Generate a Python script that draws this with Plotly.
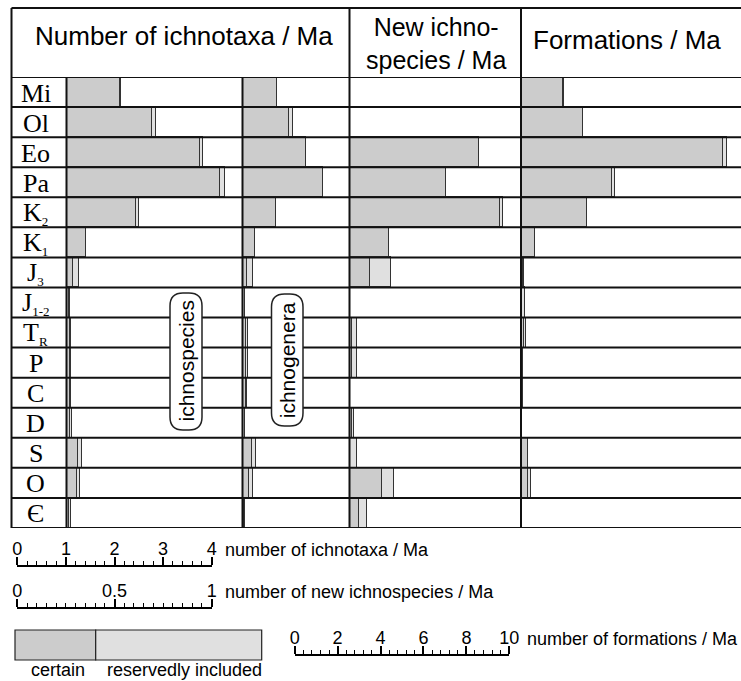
import plotly.graph_objects as go

W, H = 741, 681

# ---------------- data ----------------
SUB = "<sub><span style='font-size:13px'>{}</span></sub>"
periods = ["Mi", "Ol", "Eo", "Pa", "K" + SUB.format("2"), "K" + SUB.format("1"), "J" + SUB.format("3"),
           "J" + SUB.format("1-2"), "T" + SUB.format("R"), "P", "C", "D", "S", "O", "Є"]

ichnosp_certain = [1.09, 1.75, 2.74, 3.15, 1.41, 0.40, 0.13, 0.05, 0.06, 0.06, 0.06, 0.06, 0.22, 0.20, 0.04]
ichnosp_reserved = [0.02, 0.09, 0.06, 0.10, 0.07, 0.00, 0.12, 0.02, 0.02, 0.02, 0.03, 0.04, 0.08, 0.07, 0.04]

ichnogen_certain = [0.70, 0.94, 1.30, 1.64, 0.67, 0.25, 0.08, 0.04, 0.07, 0.07, 0.06, 0.04, 0.19, 0.13, 0.03]
ichnogen_reserved = [0.00, 0.08, 0.00, 0.00, 0.00, 0.00, 0.12, 0.01, 0.03, 0.03, 0.02, 0.01, 0.08, 0.07, 0.02]

newsp_certain = [0.0, 0.0, 0.665, 0.493, 0.772, 0.20, 0.103, 0.0, 0.01, 0.01, 0.0, 0.008, 0.0, 0.165, 0.047]
newsp_reserved = [0.0, 0.0, 0.0, 0.0, 0.017, 0.0, 0.11, 0.0, 0.025, 0.025, 0.0, 0.012, 0.035, 0.064, 0.04]

form_certain = [1.93, 2.89, 9.41, 4.21, 3.09, 0.65, 0.10, 0.05, 0.12, 0.07, 0.06, 0.04, 0.34, 0.34, 0.03]
form_reserved = [0.05, 0.00, 0.15, 0.17, 0.00, 0.00, 0.05, 0.15, 0.12, 0.00, 0.04, 0.00, 0.00, 0.14, 0.00]

headers = ["Number of ichnotaxa / Ma", "New ichno-<br>species / Ma", "Formations / Ma"]
side_labels = ["ichnospecies", "ichnogenera"]
legend_labels = ["certain", "reservedly included"]
scale_titles = ["number of ichnotaxa / Ma", "number of new ichnospecies / Ma", "number of formations / Ma"]
scale_ichnotaxa_ticks = [0, 1, 2, 3, 4]
scale_newsp_ticks = [0, 0.5, 1]
scale_form_ticks = [0, 2, 4, 6, 8, 10]

# ---------------- geometry helpers ----------------
def px(x):
    return x / W

def py(y):
    return 1 - y / H

C_CERT = "#cccccc"
C_RES = "#e0e0e0"
C_EDGE = "#333333"

TOP, HEAD_BOT, BOT = 8, 77, 528
LEFT, LABEL_R = 11.5, 66.5
cols = [(66.5, 242.5, 48.6), (242.5, 349.5, 48.6), (349.5, 521, 194.0), (521, 741, 21.5)]

n = len(periods)
ypos = list(range(n))

fig = go.Figure()

series = [(ichnosp_certain, ichnosp_reserved), (ichnogen_certain, ichnogen_reserved),
          (newsp_certain, newsp_reserved), (form_certain, form_reserved)]

layout = dict(
    width=W, height=H, margin=dict(l=0, r=0, t=0, b=0, pad=0, autoexpand=False),
    paper_bgcolor="white", plot_bgcolor="rgba(0,0,0,0)",
    barmode="stack", bargap=0, showlegend=False,
    font=dict(family="Liberation Sans, Arial, sans-serif", color="black"),
)

layout["yaxis"] = dict(domain=[py(BOT), py(HEAD_BOT)], range=[n - 0.5, -0.5],
                       visible=False, anchor="x", fixedrange=True)

for k, ((x0, x1, scale), (cert, res)) in enumerate(zip(cols, series), start=1):
    xa = "x" if k == 1 else f"x{k}"
    fig.add_trace(go.Bar(x=cert, y=ypos, orientation="h", xaxis=xa, yaxis="y",
                         marker=dict(color=C_CERT, line=dict(color=C_EDGE, width=1)),
                         hoverinfo="skip"))
    fig.add_trace(go.Bar(x=res, y=ypos, orientation="h", xaxis=xa, yaxis="y",
                         marker=dict(color=C_RES, line=dict(color=C_EDGE, width=1)),
                         hoverinfo="skip"))
    layout["xaxis" if k == 1 else f"xaxis{k}"] = dict(
        domain=[px(x0), px(x1)], range=[0, (x1 - x0) / scale], visible=False,
        anchor="y", fixedrange=True)

# ---------------- scale bars as axes ----------------
scales = [
    (5, 567.0, 17.3, 211.7, [0, 4], scale_ichnotaxa_ticks, [str(v) for v in scale_ichnotaxa_ticks], 0.2),
    (6, 609.0, 17.3, 211.7, [0, 1], scale_newsp_ticks, ["0", "0.5", "1"], 0.05),
    (7, 656.0, 294.7, 509.3, [0, 10], scale_form_ticks, [str(v) for v in scale_form_ticks], 0.4),
]
for idx, ypx, xa0, xa1, rng, tv, tt, mdt in scales:
    layout[f"yaxis{idx}"] = dict(domain=[py(ypx) - 0.004, py(ypx)], range=[0, 1], visible=False,
                                 anchor=f"x{idx}", fixedrange=True)
    layout[f"xaxis{idx}"] = dict(
        domain=[px(xa0), px(xa1)], range=[rng[0] - 1e-6, rng[1] + 1e-6], anchor=f"y{idx}", side="top",
        tickmode="array", tickvals=tv, ticktext=tt, ticks="outside", ticklen=8, tickwidth=1.5,
        tickcolor="black", showline=True, linecolor="black", linewidth=1.5,
        showgrid=False, zeroline=False, fixedrange=True, ticklabelstandoff=-5,
        tickfont=dict(size=18, family="Liberation Sans, Arial, sans-serif", color="black"),
        minor=dict(tick0=0, dtick=mdt, ticks="outside", ticklen=4, tickwidth=1.2,
                   tickcolor="black", showgrid=False),
    )
    fig.add_trace(go.Scatter(x=[rng[0]], y=[0], xaxis=f"x{idx}", yaxis=f"y{idx}", mode="markers",
                             marker=dict(opacity=0), hoverinfo="skip", showlegend=False))

# ---------------- table lines ----------------
shapes = []
LINE = dict(color="#111111", width=2)
for i in range(-1, n):
    shapes.append(dict(type="line", xref="paper", yref="y", x0=px(LEFT), x1=1,
                       y0=i + 0.5, y1=i + 0.5, line=LINE, layer="above"))
shapes.append(dict(type="line", xref="paper", yref="paper", x0=px(LEFT), x1=1,
                   y0=py(TOP), y1=py(TOP), line=LINE, layer="above"))
for xv, ytop in [(LEFT, TOP), (LABEL_R, HEAD_BOT), (242.5, HEAD_BOT), (349.5, TOP), (521, TOP)]:
    shapes.append(dict(type="line", xref="paper", yref="paper", x0=px(xv), x1=px(xv),
                       y0=py(ytop), y1=py(BOT), line=LINE, layer="above"))

# rounded pill boxes
def pill(x0, y0, x1, y1, r):
    pts = [("M", [(x0 + r, y0)]), ("L", [(x1 - r, y0)]), ("Q", [(x1, y0), (x1, y0 + r)]),
           ("L", [(x1, y1 - r)]), ("Q", [(x1, y1), (x1 - r, y1)]), ("L", [(x0 + r, y1)]),
           ("Q", [(x0, y1), (x0, y1 - r)]), ("L", [(x0, y0 + r)]), ("Q", [(x0, y0), (x0 + r, y0)])]
    s = ""
    for cmd, ps in pts:
        s += cmd + " " + " ".join(f"{px(a):.5f},{py(b):.5f}" for a, b in ps) + " "
    return s + "Z"

pills = [(170, 293, 202, 430), (271.5, 294, 303, 426)]
for (a, b, c, d) in pills:
    shapes.append(dict(type="path", xref="paper", yref="paper", path=pill(a, b, c, d, 13),
                       fillcolor="white", line=dict(color="#222222", width=1.5), layer="above"))

# legend key boxes
shapes.append(dict(type="rect", xref="paper", yref="paper", x0=px(15), x1=px(95.7), y0=py(660), y1=py(630),
                   fillcolor=C_CERT, line=dict(color="#222222", width=1.2), layer="above"))
shapes.append(dict(type="rect", xref="paper", yref="paper", x0=px(95.7), x1=px(261.7), y0=py(660), y1=py(630),
                   fillcolor=C_RES, line=dict(color="#222222", width=1.2), layer="above"))

# ---------------- annotations ----------------
ann = []
SANS = "Liberation Sans, Arial, sans-serif"
SERIF = "Liberation Serif, Times New Roman, serif"
ann.append(dict(text=headers[0], x=px(184), y=py(36), xref="paper", yref="paper", showarrow=False,
                font=dict(size=26, family=SANS), xanchor="center", yanchor="middle"))
ann.append(dict(text=headers[1], x=px(436), y=py(43), xref="paper", yref="paper", showarrow=False,
                font=dict(size=25, family=SANS), xanchor="center", yanchor="middle"))
ann.append(dict(text=headers[2], x=px(627), y=py(40), xref="paper", yref="paper", showarrow=False,
                font=dict(size=26, family=SANS), xanchor="center", yanchor="middle"))

for i, lab in enumerate(periods):
    ann.append(dict(text=lab, x=px(35.5), y=i, xref="paper", yref="y", showarrow=False,
                    font=dict(size=26, family=SERIF), xanchor="center", yanchor="middle", yshift=-1))

for lab, (a, b, c, d) in zip(side_labels, pills):
    ann.append(dict(text=lab, x=px((a + c) / 2), y=py((b + d) / 2), xref="paper", yref="paper",
                    showarrow=False, textangle=-90, font=dict(size=21, family=SANS),
                    xanchor="center", yanchor="middle"))

for lab, xx, yy in zip(scale_titles, [222.5, 223, 525], [549.5, 591.5, 638.5]):
    ann.append(dict(text=lab, x=px(xx), y=py(yy), xref="paper", yref="paper", showarrow=False,
                    font=dict(size=18, family=SANS), xanchor="left", yanchor="middle"))

for lab, xx in zip(legend_labels, [58, 184]):
    ann.append(dict(text=lab, x=px(xx), y=py(670), xref="paper", yref="paper", showarrow=False,
                    font=dict(size=18, family=SANS), xanchor="center", yanchor="middle"))

layout["shapes"] = shapes
layout["annotations"] = ann
fig.update_layout(**layout)

fig.write_html("out.html")
